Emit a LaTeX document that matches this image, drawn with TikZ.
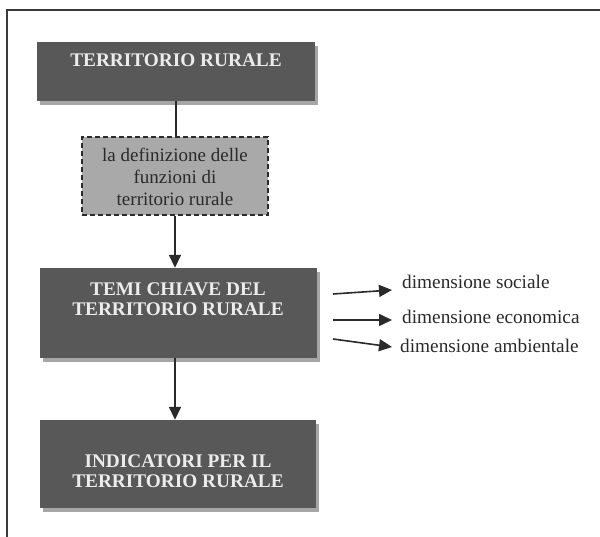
\documentclass[tikz,border=0pt]{standalone}
\usepackage{fontspec}
\setmainfont{Liberation Serif}
\usetikzlibrary{arrows.meta,shadows}
\definecolor{boxdark}{HTML}{585858}
\definecolor{dashfill}{HTML}{A9A9A9}
\definecolor{ink}{HTML}{2A2A2A}
\definecolor{frameink}{HTML}{3A3A3A}
\definecolor{boxtext}{HTML}{ECECEC}
\begin{document}
\begin{tikzpicture}[x=1pt,y=-1pt,
  darkbox/.style={fill=boxdark, draw=none, inner sep=0pt,
    drop shadow={shadow xshift=3pt, shadow yshift=-4pt, opacity=0.35, fill=black}},
  dashbox/.style={fill=dashfill, draw=ink, line width=2pt,
    dash pattern=on 5pt off 3pt, inner sep=0pt,
    minimum width=186pt, minimum height=78pt},
  darktext/.style={text=boxtext, font=\fontsize{19.3}{20.5}\selectfont\bfseries,
    align=center, inner sep=0pt},
  dashtext/.style={text=ink, font=\fontsize{19}{22}\selectfont,
    align=center, inner sep=0pt},
  sidetext/.style={text=ink, font=\fontsize{19.3}{22}\selectfont,
    anchor=west, inner sep=0pt},
  conn/.style={draw=ink, line width=1.6pt},
  arr/.style={conn, -{Triangle[length=13pt,width=12pt]}}]
\useasboundingbox (0,0) rectangle (600,537);
\draw[frameink, line width=1.6pt] (600,10) -- (7,10) -- (7,537);
% boxes
\node[darkbox, minimum width=278pt, minimum height=59pt] (b1) at (176,71.5) {};
\node[darktext] (t1) at (176,60) {TERRITORIO RURALE};
\node[dashbox] (d) at (175,176) {};
\node[dashtext] (dt) at (175,177) {la definizione delle\\funzioni di\\territorio rurale};
\node[darkbox, minimum width=277pt, minimum height=90pt] (b2) at (178.5,313) {};
\node[darktext] (t2) at (178,299) {TEMI CHIAVE DEL\\TERRITORIO RURALE};
\node[darkbox, minimum width=276pt, minimum height=88pt] (b3) at (178,464) {};
\node[darktext] (t3) at (178,471) {INDICATORI PER IL\\TERRITORIO RURALE};
% connectors
\draw[conn] (b1.south) -- (b1.south |- d.north);
\draw[arr] (d.south) -- (d.south |- b2.north);
\draw[arr] (b2.south -| d.south) -- (d.south |- b3.north);
% side items
\node[sidetext] (r1) at (402,282) {dimensione sociale};
\node[sidetext] (r2) at (402,317) {dimensione economica};
\node[sidetext] (r3) at (400,346) {dimensione ambientale};
\coordinate (s1) at (333,294); \coordinate (e1) at (392,290);
\coordinate (s2) at (333,320); \coordinate (e2) at (392,320);
\coordinate (s3) at (333,339); \coordinate (e3) at (392,347);
\draw[arr] (s1) -- (e1);
\draw[arr] (s2) -- (e2);
\draw[arr] (s3) -- (e3);
\end{tikzpicture}
\end{document}
